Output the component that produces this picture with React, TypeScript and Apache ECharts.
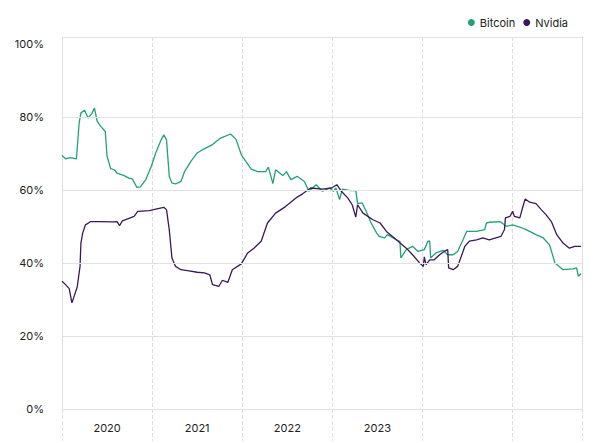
import React, { useEffect, useRef } from "react";
import * as echarts from "echarts";

// Dates as decimal years
const btcDates = [
  2020.0, 2020.04, 2020.09, 2020.16, 2020.19, 2020.21, 2020.25, 2020.29, 2020.33, 2020.36,
  2020.39, 2020.43, 2020.48, 2020.5, 2020.54, 2020.58, 2020.61, 2020.69, 2020.74, 2020.78,
  2020.83, 2020.87, 2020.93, 2020.99, 2021.04, 2021.1, 2021.13, 2021.16, 2021.19, 2021.22,
  2021.26, 2021.32, 2021.36, 2021.43, 2021.5, 2021.56, 2021.67, 2021.76, 2021.87, 2021.93,
  2021.99, 2022.04, 2022.1, 2022.17, 2022.26, 2022.29, 2022.34, 2022.37, 2022.45, 2022.49,
  2022.54, 2022.61, 2022.69, 2022.74, 2022.82, 2022.89, 2022.97, 2023.01, 2023.04, 2023.08,
  2023.11, 2023.2, 2023.26, 2023.28, 2023.33, 2023.37, 2023.43, 2023.49, 2023.52, 2023.58,
  2023.61, 2023.71, 2023.75, 2023.76, 2023.82, 2023.89, 2023.95, 2024.02, 2024.06, 2024.08,
  2024.09, 2024.15, 2024.23, 2024.28, 2024.34, 2024.39, 2024.45, 2024.49, 2024.6, 2024.69,
  2024.71, 2024.74, 2024.86, 2024.93, 2025.0, 2025.08, 2025.15, 2025.26, 2025.34, 2025.41,
  2025.47, 2025.56, 2025.67, 2025.71, 2025.73, 2025.76,
];
const btcValues = [
  69.5, 68.6, 68.9, 68.6, 78.4, 81.2, 81.9, 79.8, 81, 82.5,
  78.9, 77.5, 76.1, 69.3, 65.9, 65.6, 64.7, 64, 63.3, 63.1,
  60.8, 60.9, 62.9, 66.5, 70.2, 73.8, 75.2, 73.8, 63.8, 62,
  61.7, 62.4, 65.1, 67.9, 70.2, 71.1, 72.5, 74.3, 75.4, 74,
  69.7, 67.9, 65.8, 65.1, 65.1, 66.3, 61.8, 65.6, 64, 65.1,
  62.9, 63.8, 62.4, 59.7, 61.5, 59.7, 60.6, 59.7, 60.6, 57.4,
  60.3, 59.9, 59.9, 56.3, 56.5, 54.5, 51.0, 48.3, 47.3, 46.9,
  47.8, 46.4, 45.9, 41.4, 43.7, 44.6, 43.2, 43.7, 46, 46,
  41.4, 42.8, 43.5, 42.3, 42.3, 43.2, 46.4, 48.7, 48.7, 49.2,
  51, 51.2, 51.4, 50.1, 50.5, 49.9, 49.2, 47.8, 46.9, 45,
  40, 38.2, 38.4, 38.7, 36.4, 37.1,
];

const nvdaDates = [
  2020.0, 2020.04, 2020.08, 2020.11, 2020.14, 2020.17, 2020.2, 2020.21, 2020.23, 2020.26,
  2020.32, 2020.41, 2020.56, 2020.61, 2020.64, 2020.67, 2020.8, 2020.84, 2020.97, 2021.04,
  2021.13, 2021.16, 2021.19, 2021.22, 2021.26, 2021.32, 2021.41, 2021.5, 2021.58, 2021.64,
  2021.67, 2021.74, 2021.78, 2021.84, 2021.89, 2021.99, 2022.06, 2022.13, 2022.21, 2022.28,
  2022.37, 2022.48, 2022.61, 2022.67, 2022.76, 2022.89, 2022.99, 2023.05, 2023.1, 2023.17,
  2023.22, 2023.26, 2023.28, 2023.34, 2023.45, 2023.53, 2023.6, 2023.71, 2023.82, 2023.89,
  2023.97, 2024.01, 2024.02, 2024.04, 2024.08, 2024.13, 2024.19, 2024.24, 2024.28, 2024.29,
  2024.34, 2024.39, 2024.43, 2024.47, 2024.52, 2024.6, 2024.67, 2024.74, 2024.87, 2024.91,
  2024.92, 2024.97, 2025.0, 2025.02, 2025.08, 2025.12, 2025.14, 2025.19, 2025.26, 2025.32,
  2025.37, 2025.43, 2025.49, 2025.56, 2025.63, 2025.69, 2025.76,
];
const nvdaValues = [
  35, 34.1, 33, 29.1, 31.3, 33.6, 39.1, 45.5, 48.3, 50.5,
  51.4, 51.4, 51.3, 51.4, 50.3, 51.6, 52.8, 54.2, 54.4, 54.8,
  55.3, 54.6, 49.2, 41.4, 39.1, 38.2, 37.9, 37.5, 37.3, 36.8,
  34.1, 33.6, 35.3, 34.7, 38.2, 39.8, 42.8, 44.1, 46, 51,
  53.7, 55.5, 58.1, 59, 60.6, 60.3, 60.6, 61.5, 59.7, 57.9,
  56, 52.6, 56, 53.7, 51.9, 51.0, 48.7, 46.4, 44.1, 42.3,
  40, 39.1, 41.7, 39.6, 40.9, 40.9, 42.3, 43.2, 43.7, 38.7,
  38.2, 39.1, 41.8, 44.6, 46, 46.4, 46.9, 46.4, 47.3, 49.2,
  52.4, 52.8, 54.2, 52.8, 52.4, 56, 57.6, 56.7, 56.3, 54.6,
  53.3, 51.4, 47.8, 45.5, 44.1, 44.6, 44.6,
];

const yearLabels = ["2020", "2021", "2022", "2023"];
const gridValues = [0, 20, 40, 60, 80, 102];

const X_MIN = 2020;
const X_MAX = 2025.77;
const Y_MAX = 102;

const BTC_COLOR = "#22a079";
const NVDA_COLOR = "#3b1858";
const FONT = "Inter";

export default function App() {
  const ref = useRef<HTMLDivElement>(null);
  useEffect(() => {
    if (!ref.current) return;
    const chart = echarts.init(ref.current, undefined, { renderer: "svg" });
    const pair = (d: number[], v: number[]) => d.map((x, i) => [x, v[i]]);
    chart.setOption({
      animation: false,
      backgroundColor: "#ffffff",
      textStyle: { fontFamily: FONT },
      legend: {
        top: 12,
        right: 27,
        icon: "circle",
        itemWidth: 7,
        itemHeight: 7,
        itemGap: 8,
        textStyle: { fontFamily: FONT, fontSize: 11, color: "#222" },
        data: ["Bitcoin", "Nvidia"],
      },
      grid: { left: 62, right: 18, top: 37, bottom: 34 },
      xAxis: [
        {
          type: "value",
          min: X_MIN,
          max: X_MAX,
          interval: 1,
          position: "bottom",
          axisLine: { show: false },
          axisLabel: { show: false },
          axisTick: {
            show: true,
            length: 32,
            lineStyle: { color: "#dcdcdc", type: "dashed", width: 1 },
          },
          splitLine: {
            show: true,
            lineStyle: { color: "#dcdcdc", type: "dashed", width: 1 },
          },
        },
        {
          type: "value",
          min: X_MIN,
          max: X_MAX,
          interval: 0.5,
          position: "bottom",
          axisLine: { show: false },
          axisTick: { show: false },
          splitLine: { show: false },
          axisLabel: {
            margin: 13,
            fontFamily: FONT,
            fontSize: 11,
            color: "#222",
            showMinLabel: false,
            showMaxLabel: false,
            formatter: (v: number) => {
              const y = Math.floor(v + 1e-6);
              const frac = v - y;
              if (Math.abs(frac - 0.5) < 0.01) {
                const idx = y - X_MIN;
                return yearLabels[idx] ?? "";
              }
              return "";
            },
          },
        },
      ],
      yAxis: [
        {
          type: "value",
          min: 0,
          max: Y_MAX,
          interval: 20,
          position: "left",
          axisLine: { show: true, lineStyle: { color: "#dddddd", width: 1 } },
          axisTick: { show: false },
          splitLine: { show: false },
          axisLabel: {
            margin: 18,
            fontFamily: FONT,
            fontSize: 11,
            color: "#222",
            formatter: (v: number) => (v % 20 === 0 ? `${v}%` : ""),
          },
        },
        {
          type: "value",
          min: 0,
          max: Y_MAX,
          interval: 20,
          position: "right",
          axisLine: { show: true, lineStyle: { color: "#dddddd", width: 1 } },
          axisTick: { show: false },
          splitLine: { show: false },
          axisLabel: { show: false },
        },
      ],
      series: [
        {
          name: "grid",
          type: "line",
          xAxisIndex: 0,
          yAxisIndex: 0,
          data: [],
          silent: true,
          z: 1,
          markLine: {
            silent: true,
            symbol: "none",
            label: { show: false },
            lineStyle: { color: "#e2e2e2", type: "solid", width: 1 },
            data: gridValues.map((v) => ({ yAxis: v })),
          },
        },
        {
          name: "Bitcoin",
          type: "line",
          xAxisIndex: 0,
          yAxisIndex: 0,
          data: pair(btcDates, btcValues),
          showSymbol: false,
          symbol: "circle",
          itemStyle: { color: BTC_COLOR },
          lineStyle: { color: BTC_COLOR, width: 1.3 },
          z: 3,
        },
        {
          name: "Nvidia",
          type: "line",
          xAxisIndex: 0,
          yAxisIndex: 0,
          data: pair(nvdaDates, nvdaValues),
          showSymbol: false,
          symbol: "circle",
          itemStyle: { color: NVDA_COLOR },
          lineStyle: { color: NVDA_COLOR, width: 1.3 },
          z: 4,
        },
      ],
    });
    return () => chart.dispose();
  }, []);
  return (
    <div
      ref={ref}
      style={{ position: "fixed", left: 0, top: 0, width: 600, height: 443, background: "#fff" }}
    />
  );
}
